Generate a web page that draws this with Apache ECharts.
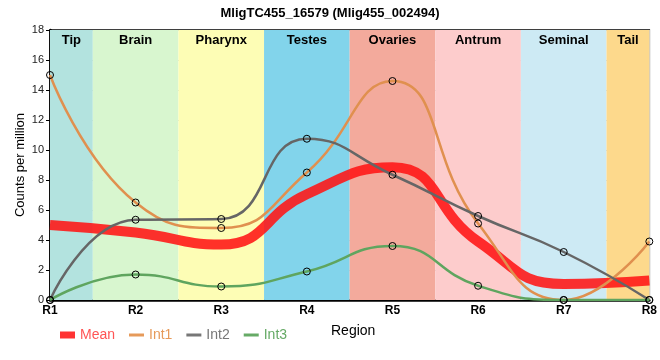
<!DOCTYPE html>
<html><head><meta charset="utf-8">
<script src="https://cdn.jsdelivr.net/npm/echarts@6/dist/echarts.min.js"></script>
<style>html,body{margin:0;padding:0;background:#fff}#c{width:660px;height:360px}</style>
</head><body><div id="c"></div>
<script>
const categories = ['R1','R2','R3','R4','R5','R6','R7','R8'];
const int1 = [15, 6.5, 4.8, 8.5, 14.6, 5.1, 0, 3.9];
const int2 = [0, 5.35, 5.4, 10.75, 8.35, 5.6, 3.2, 0];
const int3 = [0, 1.7, 0.9, 1.9, 3.6, 0.95, 0, 0];
const meanVals = [5, 4.5, 3.7, 7.05, 8.85, 3.9, 1.07, 1.3];
const regions = ['Tip','Brain','Pharynx','Testes','Ovaries','Antrum','Seminal','Tail'];
const regionColors = ['#b3e3df','#d8f6cf','#fdfdb5','#82d4eb','#f3aa9c','#fdcccc','#cdeaf4','#fdd98c'];
const yTicks = [0,2,4,6,8,10,12,14,16,18];

const toXY = arr => arr.map((v,i)=>[i+1, v]);
const bands = regions.map((r,i)=>[
  {name:r, xAxis: Math.max(1, i+0.5), itemStyle:{color:regionColors[i], opacity:1}},
  {xAxis: Math.min(categories.length, i+1.5)}
]);
const pt = {symbol:'circle', symbolSize:7, showSymbol:true,
  itemStyle:{color:'rgba(255,255,255,0)', borderColor:'#000', borderWidth:1}};
const lineIcon = 'path://M0,0H15V3H0Z';

const chart = echarts.init(document.getElementById('c'), null, {renderer:'canvas'});
chart.setOption({
  animation:false,
  title:{text:'MligTC455_16579 (Mlig455_002494)', left:'center', top:2,
    textStyle:{fontFamily:'Liberation Sans, Arial', fontSize:13, fontWeight:'bold', color:'#000'}},
  grid:{left:50, right:9, top:30, bottom:60, show:true, borderColor:'#000', borderWidth:1.5, backgroundColor:'transparent'},
  legend:{left:55, top:323, itemGap:14, itemWidth:15, itemHeight:7,
    textStyle:{fontFamily:'Liberation Sans, Arial', fontSize:14},
    data:[
      {name:'Mean', icon:'rect', itemStyle:{color:'#ff3333', borderWidth:0}, textStyle:{color:'#ff5555'}},
      {name:'Int1', icon:lineIcon, itemStyle:{color:'#e69a5a', borderWidth:0}, textStyle:{color:'#e69a5a'}},
      {name:'Int2', icon:lineIcon, itemStyle:{color:'#777', borderWidth:0}, textStyle:{color:'#777'}},
      {name:'Int3', icon:lineIcon, itemStyle:{color:'#66aa66', borderWidth:0}, textStyle:{color:'#66aa66'}}
    ]},
  graphic:[{type:'text', left:331, top:324, style:{text:'Region', font:'14px Liberation Sans, Arial', fill:'#000'}}],
  xAxis:{type:'value', min:1, max:categories.length, interval:1,
    axisLine:{show:true, onZero:false, lineStyle:{color:'#000', width:2.5}},
    axisTick:{show:false},
    splitLine:{show:true, lineStyle:{color:'#c8c8c8', width:1}},
    axisLabel:{formatter:v=>categories[v-1]||'', color:'#000', fontFamily:'Liberation Sans, Arial', fontSize:12, fontWeight:'bold', margin:5}},
  yAxis:{type:'value', min:yTicks[0], max:yTicks[yTicks.length-1], interval:2,
    name:'Counts per million', nameLocation:'middle', nameGap:23, nameMoveOverlap:false,
    nameTextStyle:{fontFamily:'Liberation Sans, Arial', fontSize:13, color:'#000'},
    axisLine:{show:true, lineStyle:{color:'#000', width:2.5}},
    axisTick:{show:true, length:4, lineStyle:{color:'#000'}},
    splitLine:{show:true, lineStyle:{color:'#c8c8c8', width:1}},
    axisLabel:{color:'#222', fontFamily:'Liberation Sans, Arial', fontSize:11, margin:6}},
  series:[
    {name:'bands', type:'line', data:[], silent:true, z:0,
      markArea:{silent:true, label:{show:true, position:'insideTop', distance:4, color:'#000', fontFamily:'Liberation Sans, Arial', fontSize:13, fontWeight:'bold'},
        data:bands}},
    {name:'Int1', type:'line', smooth:0.5, data:toXY(int1), ...pt, lineStyle:{color:'#e0904f', width:2.5}, z:3},
    {name:'Int2', type:'line', smooth:0.5, data:toXY(int2), ...pt, lineStyle:{color:'#666', width:2.5}, z:3},
    {name:'Int3', type:'line', smooth:0.5, data:toXY(int3), ...pt, lineStyle:{color:'#5fa55f', width:2.5}, z:3},
    {name:'Mean', type:'line', smooth:0.5, data:toXY(meanVals), showSymbol:false, symbol:'none',
      lineStyle:{color:'rgba(255,20,20,0.88)', width:10}, itemStyle:{color:'#ff3333'}, z:2}
  ]
});
</script></body></html>
